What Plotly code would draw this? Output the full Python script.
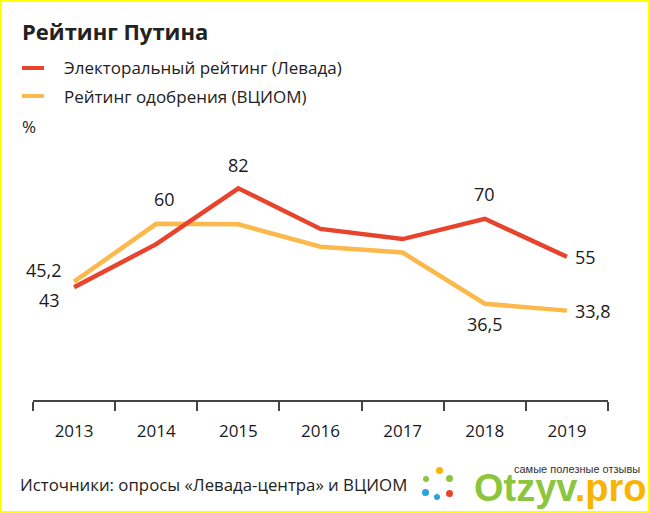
import plotly.graph_objects as go

# ---- data ----
years = ["2013", "2014", "2015", "2016", "2017", "2018", "2019"]
levada = [43, 60, 82, 66, 62, 70, 55]
vciom = [45.2, 68, 67.8, 59, 56.7, 36.5, 33.8]
series_names = ["Электоральный рейтинг (Левада)", "Рейтинг одобрения (ВЦИОМ)"]
title_text = "Рейтинг Путина"
unit_text = "%"
source_text = "Источники: опросы «Левада-центра» и ВЦИОМ"
brand_tagline = "самые полезные отзывы"

# labelled points: (series index, year index, label text, xshift, yshift, xanchor)
labels = [
    (0, 2, "82", 0, 23, "center"),
    (1, 1, "60", 8, 25, "center"),
    (0, 5, "70", 0, 25, "center"),
    (0, 6, "55", 6, 0, "left"),
    (1, 0, "45,2", -10, 12, "right"),
    (0, 0, "43", -12, -13, "right"),
    (1, 5, "36,5", 0, -20, "center"),
    (1, 6, "33,8", 6, 0, "left"),
]

RED = "#e8432d"
YEL = "#fbb94b"
TXT = "#1a1a1a"

W, H = 650, 513
ML, MR, MT, MB = 33, 42, 150, 113
PW, PH = W - ML - MR, H - MT - MB


def px(x):
    return (x - ML) / PW


def py(y):
    return (H - MB - y) / PH


FONT = "Open Sans"

fig = go.Figure()
data = [levada, vciom]
colors = [RED, YEL]
for i in (1, 0):
    fig.add_trace(go.Scatter(
        x=years, y=data[i], mode="lines", name=series_names[i],
        line=dict(color=colors[i], width=4.5), hoverinfo="x+y",
        showlegend=False,
    ))

annotations = []
for si, yi, txt, xs, ys, xa in labels:
    annotations.append(dict(
        x=yi, y=data[si][yi], xref="x", yref="y", text=txt,
        showarrow=False, xshift=xs, yshift=ys, xanchor=xa, yanchor="middle",
        font=dict(family=FONT, size=18, color=TXT),
    ))

# title, legend, unit, source
annotations += [
    dict(x=px(20), y=py(31), xref="paper", yref="paper", text="<b>" + title_text + "</b>",
         showarrow=False, xanchor="left", yanchor="middle",
         font=dict(family=FONT, size=22, color="#222222")),
    dict(x=px(62), y=py(68), xref="paper", yref="paper", text=series_names[0],
         showarrow=False, xanchor="left", yanchor="middle",
         font=dict(family=FONT, size=17, color="#222222")),
    dict(x=px(62), y=py(96), xref="paper", yref="paper", text=series_names[1],
         showarrow=False, xanchor="left", yanchor="middle",
         font=dict(family=FONT, size=17, color="#222222")),
    dict(x=px(20), y=py(127), xref="paper", yref="paper", text=unit_text,
         showarrow=False, xanchor="left", yanchor="middle",
         font=dict(family=FONT, size=17, color="#222222")),
    dict(x=px(18), y=py(484), xref="paper", yref="paper", text=source_text,
         showarrow=False, xanchor="left", yanchor="middle",
         font=dict(family=FONT, size=16.8, color="#222222")),
    # watermark
    dict(x=px(642), y=py(469), xref="paper", yref="paper", text=brand_tagline,
         showarrow=False, xanchor="right", yanchor="middle",
         font=dict(family="Liberation Sans Narrow, Liberation Sans", size=11, color="#333333")),
    dict(x=px(472), y=py(511), xref="paper", yref="paper",
         text="<b><span style='color:#8cc63f'>Otzyv</span><span style='color:#f8b400'>.pro</span></b>",
         showarrow=False, xanchor="left", yanchor="bottom",
         font=dict(family="Liberation Sans", size=38)),
]

shapes = [
    dict(type="line", xref="paper", yref="paper", x0=px(22), x1=px(44), y0=py(68), y1=py(68),
         line=dict(color=RED, width=4)),
    dict(type="line", xref="paper", yref="paper", x0=px(22), x1=px(44), y0=py(96), y1=py(96),
         line=dict(color=YEL, width=4)),
    # logo icon approximation
    dict(type="circle", xref="paper", yref="paper", x0=px(436), x1=px(443), y0=py(474), y1=py(467),
         fillcolor="#f8b400", line=dict(width=0)),
    dict(type="circle", xref="paper", yref="paper", x0=px(423), x1=px(429), y0=py(482), y1=py(476),
         fillcolor="#8cc63f", line=dict(width=0)),
    dict(type="circle", xref="paper", yref="paper", x0=px(446), x1=px(453), y0=py(482), y1=py(475),
         fillcolor="#8cc63f", line=dict(width=0)),
    dict(type="circle", xref="paper", yref="paper", x0=px(422), x1=px(429), y0=py(496), y1=py(489),
         fillcolor="#2aa3dc", line=dict(width=0)),
    dict(type="circle", xref="paper", yref="paper", x0=px(434), x1=px(440), y0=py(500), y1=py(494),
         fillcolor="#2aa3dc", line=dict(width=0)),
    dict(type="circle", xref="paper", yref="paper", x0=px(446), x1=px(453), y0=py(497), y1=py(490),
         fillcolor="#e8432d", line=dict(width=0)),
    # yellow frame
    dict(type="rect", xref="paper", yref="paper", x0=px(1), x1=px(W - 1), y0=py(H - 1), y1=py(1),
         line=dict(color="#ffff00", width=2), fillcolor="rgba(0,0,0,0)", layer="above"),
]

fig.update_layout(
    width=W, height=H,
    margin=dict(l=ML, r=MR, t=MT, b=MB),
    paper_bgcolor="white", plot_bgcolor="white",
    showlegend=False,
    annotations=annotations,
    shapes=shapes,
    xaxis=dict(
        type="category", categoryorder="array", categoryarray=years,
        range=[-0.5, 6.5], showgrid=False, zeroline=False,
        showline=True, linecolor="#444444", linewidth=1.5,
        ticks="outside", tickson="boundaries", ticklen=9, tickwidth=1.5, tickcolor="#444444",
        ticklabelstandoff=15,
        tickfont=dict(family=FONT, size=17, color=TXT),
        fixedrange=True,
    ),
    yaxis=dict(visible=False, range=[-1.42, 97.1], fixedrange=True),
)

fig.write_html(
    "out.html",
    config={"displayModeBar": False},
    post_script="document.body.style.margin='0';document.body.style.overflow='hidden';",
)
